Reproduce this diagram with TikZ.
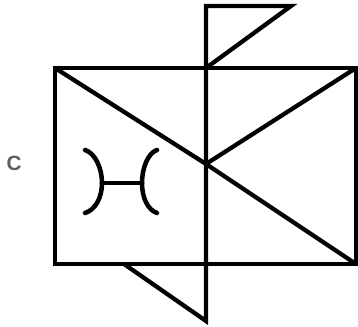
\documentclass[tikz,border=0pt]{standalone}
\usepackage{fontspec}
\setsansfont{Liberation Sans}
\definecolor{Ink}{HTML}{000000}
\definecolor{Muted}{HTML}{5A5F66}
\tikzset{
  heavyline/.style={draw=Ink,line width=3.2pt,line join=miter},
  swashline/.style={draw=Ink,line width=3.4pt,line cap=round},
  tag/.style={text=Muted,font=\sffamily\bfseries\fontsize{15.5}{17}\selectfont,inner sep=0pt}
}
\begin{document}
\begin{tikzpicture}[x=.75pt,y=-.75pt]
      \useasboundingbox (0,0) rectangle (358,327);
      \coordinate (nw) at (55,68);
      \coordinate (ne) at (356,68);
      \coordinate (se) at (356,264);
      \coordinate (sw) at (55,264);
      \coordinate (mid) at (206,164);
      \coordinate (top) at (206,68);
      \coordinate (flagtop) at (206,6);
      \coordinate (flagtip) at (291,6);
      \coordinate (bottom) at (206,264);
      \coordinate (tailtip) at (206,321);
      \coordinate (tailend) at (124,264);
      \coordinate (barl) at (102,183);
      \coordinate (barr) at (142,183);
      \node[tag] (label) at (14,163) {C};
      % frame and diagonals
      \draw[heavyline] (nw) -- (ne) -- (se) -- (sw) -- cycle;
      \draw[heavyline] (nw) -- (mid) -- (se);
      \draw[heavyline] (ne) -- (mid);
      % vertical with flag and tail
      \draw[heavyline] (top) -- (flagtop) -- (flagtip) -- (top) -- (tailtip) -- (tailend);
      % symbol
      \draw[swashline] (85,150) .. controls (95,153) and (102,168) .. (barl) .. controls (102,198) and (95,210) .. (85,213);
      \draw[swashline] (157,150) .. controls (148,153) and (142,168) .. (barr) .. controls (142,198) and (148,210) .. (157,213);
      \draw[swashline] (barl) -- (barr);
    \end{tikzpicture}
\end{document}
